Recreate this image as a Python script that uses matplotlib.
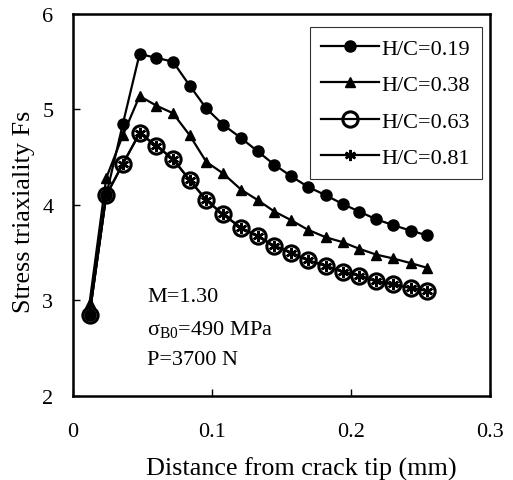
import matplotlib
matplotlib.use("Agg")
import matplotlib.pyplot as plt

plt.rcParams['font.family'] = ['Liberation Serif', 'DejaVu Serif']
plt.rcParams['mathtext.fontset'] = 'custom'
plt.rcParams['mathtext.rm'] = 'Liberation Serif'
plt.rcParams['mathtext.it'] = 'Liberation Serif:italic'

distance = [0.012, 0.024, 0.036, 0.048, 0.060, 0.072, 0.084, 0.096, 0.108, 0.121,
            0.133, 0.145, 0.157, 0.169, 0.182, 0.194, 0.206, 0.218, 0.230, 0.243, 0.255]
hc019 = [2.85, 4.10, 4.85, 5.58, 5.54, 5.50, 5.25, 5.01, 4.84, 4.70,
         4.56, 4.42, 4.30, 4.19, 4.10, 4.01, 3.93, 3.85, 3.79, 3.73, 3.68]
hc038 = [2.97, 4.28, 4.73, 5.14, 5.04, 4.96, 4.73, 4.45, 4.33, 4.16,
         4.05, 3.93, 3.84, 3.74, 3.66, 3.61, 3.54, 3.48, 3.44, 3.39, 3.34]
hc063 = [2.85, 4.10, 4.43, 4.75, 4.62, 4.48, 4.26, 4.05, 3.90, 3.76,
         3.67, 3.57, 3.50, 3.42, 3.36, 3.30, 3.26, 3.20, 3.17, 3.13, 3.10]
hc081 = [2.85, 4.10, 4.43, 4.75, 4.62, 4.48, 4.26, 4.05, 3.90, 3.76,
         3.67, 3.57, 3.50, 3.42, 3.36, 3.30, 3.26, 3.20, 3.17, 3.13, 3.10]
labels = ['H/C=0.19', 'H/C=0.38', 'H/C=0.63', 'H/C=0.81']
xticks = [0, 0.1, 0.2, 0.3]
xticklabels = ['0', '0.1', '0.2', '0.3']
yticks = [2, 3, 4, 5, 6]

fig = plt.figure(figsize=(5.13, 4.81), dpi=100)
ax = fig.add_axes([0.142, 0.175, 0.813, 0.794])

lw = 1.6
ax.plot(distance, hc019, color='black', lw=lw, marker='o', ms=8, mfc='black', mec='black', label=labels[0])
ax.plot(distance, hc038, color='black', lw=lw, marker='^', ms=7, mfc='black', mec='black', label=labels[1])
ax.plot(distance, hc063, color='black', lw=lw, marker='o', ms=11, mfc='none', mec='black', mew=2.2, label=labels[2])
ax.plot(distance, hc081, color='black', lw=lw, marker=(6, 2, 0), ms=8, mec='black', mew=1.8, label=labels[3])

ax.set_xlim(0, 0.3)
ax.set_ylim(2, 6)
ax.set_xticks(xticks)
ax.set_xticklabels(xticklabels)
ax.set_yticks(yticks)
ax.tick_params(direction='in', length=5, width=1, labelsize=16)
ax.tick_params(axis='x', pad=19)
ax.tick_params(axis='y', pad=14)
for s in ax.spines.values():
    s.set_linewidth(1.8)

ax.set_xlabel('Distance from crack tip (mm)', fontsize=18.8)
ax.xaxis.set_label_coords(0.547, -0.16)
ax.set_ylabel('Stress triaxiality Fs', fontsize=18.8)
ax.yaxis.set_label_coords(-0.09, 0.484)

ax.text(0.178, 0.249, 'M=1.30', transform=ax.transAxes, fontsize=16)
ax.text(0.178, 0.162, 'σ$_{\\mathrm{B0}}$=490 MPa', transform=ax.transAxes, fontsize=16)
ax.text(0.178, 0.084, 'P=3700 N', transform=ax.transAxes, fontsize=16)

leg = ax.legend(loc='upper right', bbox_to_anchor=(0.98, 0.966), borderaxespad=0,
                fontsize=16, frameon=True, fancybox=False, edgecolor='black',
                handlelength=2.6, handletextpad=0.15, labelspacing=0.72, borderpad=0.5)
leg.get_frame().set_linewidth(0.8)

fig.savefig('out.png', dpi=100)
